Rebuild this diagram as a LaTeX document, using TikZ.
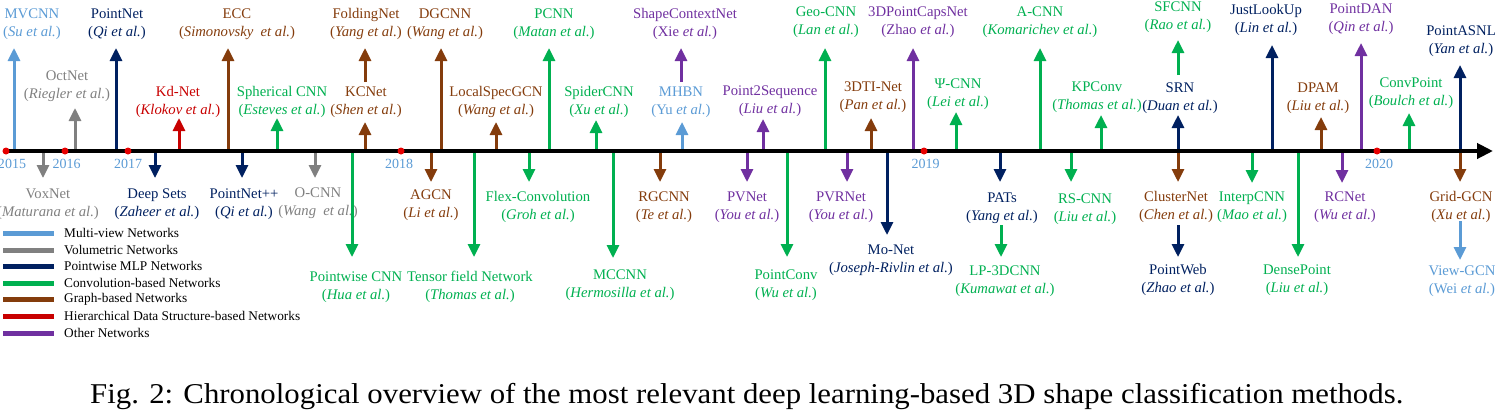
\documentclass[tikz,border=0pt]{standalone}
\usepackage{fontspec}
\setmainfont{Liberation Serif}
\usepackage{graphicx}
\usetikzlibrary{arrows.meta}
\definecolor{mvblue}{RGB}{91,155,213}
\definecolor{volgray}{RGB}{128,128,128}
\definecolor{mlpnavy}{RGB}{0,32,96}
\definecolor{convgreen}{RGB}{0,176,80}
\definecolor{graphbrown}{RGB}{132,60,12}
\definecolor{hierred}{RGB}{200,0,0}
\definecolor{othpurple}{RGB}{112,48,160}
\definecolor{dotred}{RGB}{230,0,0}
\tikzset{
  lbl/.style={inner sep=0pt, anchor=base, font=\fontsize{14.7bp}{17bp}\selectfont},
  evarrow/.style={line width=3bp, -{Triangle[width=12bp,length=13bp]}},
  axisline/.style={line width=4bp, black, -{Triangle[width=15bp,length=16bp]}},
  ydot/.style={circle, fill=dotred, inner sep=0pt, minimum size=7bp},
  yr/.style={inner sep=0pt, anchor=base, text=mvblue, font=\fontsize{14bp}{16bp}\selectfont},
  lgdline/.style={line width=5bp},
  lgdtext/.style={inner sep=0pt, anchor=west, font=\fontsize{13.3bp}{15bp}\selectfont},
  captext/.style={inner sep=0pt, anchor=base west, font=\fontsize{28.7bp}{34bp}\selectfont}
}
% id, colour, arrow x, start y, tip y, label x, name centre y, name, author
\newcommand\tlev[9]{%
  \coordinate (#1-s) at (#3,#4);
  \coordinate (#1-t) at (#3,#5);
  \draw[evarrow,#2] (#1-s) -- (#1-t);
  \node[lbl,text=#2] (#1) at ({#6},{#7+4.7}) {#8};
  \node[lbl,text=#2] (#1-a) at ({#6},{#7+22.7}) {#9};
}
\newcommand\lgd[4]{%
  \coordinate (#1-l) at (3,#3);
  \coordinate (#1-r) at (54,#3);
  \draw[lgdline,#2] (#1-l) -- (#1-r);
  \node[lgdtext] (#1) at (64,#3) {#4};
}
\begin{document}
\begin{tikzpicture}[x=1bp,y=-1bp]
\useasboundingbox (0,0) rectangle (1501,412);
% ---- events above the axis
\tlev{mvcnn}{mvblue}{14}{151}{48}{32}{14}{MVCNN}{(\textit{Su et al.})}
\tlev{octnet}{volgray}{75}{151}{108}{67}{76}{OctNet}{(\textit{Riegler et al.})}
\tlev{pointnet}{mlpnavy}{116}{151}{48}{117}{14}{PointNet}{(\textit{Qi et al.})}
\tlev{kdnet}{hierred}{179}{151}{118}{178}{92}{Kd-Net}{(\textit{Klokov et al.})}
\tlev{ecc}{graphbrown}{228}{151}{48}{237}{14}{ECC}{(\textit{Simonovsky~ et al.})}
\tlev{sphcnn}{convgreen}{277}{151}{118}{282}{92}{Spherical CNN}{(\textit{Esteves et al.})}
\tlev{kcnet}{graphbrown}{365}{151}{122}{366}{92}{KCNet}{(\textit{Shen et al.})}
\tlev{foldingnet}{graphbrown}{365}{82}{48}{366}{14}{FoldingNet}{(\textit{Yang et al.})}
\tlev{dgcnn}{graphbrown}{441}{151}{48}{445}{14}{DGCNN}{(\textit{Wang et al.})}
\tlev{localspec}{graphbrown}{496}{151}{122}{496}{92}{LocalSpecGCN}{(\textit{Wang et al.})}
\tlev{pcnn}{convgreen}{549}{151}{48}{554}{14}{PCNN}{(\textit{Matan et al.})}
\tlev{spidercnn}{convgreen}{596}{151}{120}{599}{92}{SpiderCNN}{(\textit{Xu et al.})}
\tlev{scn}{othpurple}{681}{82}{48}{685}{14}{ShapeContextNet}{(Xie \textit{et al.})}
\tlev{mhbn}{mvblue}{682}{151}{122}{681}{92}{MHBN}{(Yu \textit{et al.})}
\tlev{ptseq}{othpurple}{763}{151}{119}{770}{91}{Point2Sequence}{(\textit{Liu et al.})}
\tlev{geocnn}{convgreen}{825}{151}{48}{826}{12}{Geo-CNN}{(\textit{Lan et al.})}
\tlev{capsnet}{othpurple}{913}{151}{48}{918}{12}{3DPointCapsNet}{(Zhao \textit{et al.})}
\tlev{tinet}{graphbrown}{871}{151}{118}{873}{87}{3DTI-Net}{(\textit{Pan et al.})}
\tlev{psicnn}{convgreen}{956}{151}{112}{958}{84}{Ψ-CNN}{(\textit{Lei et al.})}
\tlev{acnn}{convgreen}{1040}{151}{48}{1040}{12}{A-CNN}{(\textit{Komarichev et al.})}
\tlev{kpconv}{convgreen}{1101}{151}{115}{1097}{87}{KPConv}{(\textit{Thomas et al.})}
\tlev{srn}{mlpnavy}{1178}{151}{115}{1180}{88}{SRN}{(\textit{Duan et al.})}
\tlev{sfcnn}{convgreen}{1178}{75}{40}{1178}{7}{SFCNN}{(\textit{Rao et al.})}
\tlev{jlu}{mlpnavy}{1272}{151}{45}{1266}{10}{JustLookUp}{(\textit{Lin et al.})}
\tlev{dpam}{graphbrown}{1321}{151}{117}{1318}{88}{DPAM}{(\textit{Liu et al.})}
\tlev{pointdan}{othpurple}{1361}{151}{43}{1361}{9}{PointDAN}{(\textit{Qin et al.})}
\tlev{convpoint}{convgreen}{1409}{151}{113}{1411}{83}{ConvPoint}{(\textit{Boulch et al.})}
\tlev{pointasnl}{mlpnavy}{1460}{151}{65}{1461}{31}{PointASNL}{(\textit{Yan et al.})}
% ---- events below the axis
\tlev{voxnet}{volgray}{43}{151}{178}{48}{194}{VoxNet}{(\textit{Maturana et al.})}
\tlev{deepsets}{mlpnavy}{155}{151}{178}{157}{194}{Deep Sets}{(\textit{Zaheer et al.})}
\tlev{pointnetpp}{mlpnavy}{242}{151}{178}{244}{194}{PointNet++}{(\textit{Qi et al.})}
\tlev{ocnn}{volgray}{315}{151}{178}{318}{193}{O-CNN}{(\textit{Wang~ et al.})}
\tlev{pwcnn}{convgreen}{352}{151}{257}{356}{277}{Pointwise CNN}{(\textit{Hua et al.})}
\tlev{agcn}{graphbrown}{431}{151}{182}{431}{195}{AGCN}{(\textit{Li et al.})}
\tlev{tfn}{convgreen}{474}{151}{257}{470}{277}{Tensor field Network}{(\textit{Thomas et al.})}
\tlev{flexconv}{convgreen}{529}{151}{182}{538}{197}{Flex-Convolution}{(\textit{Groh et al.})}
\tlev{mccnn}{convgreen}{613}{151}{258}{620}{275}{MCCNN}{(\textit{Hermosilla et al.})}
\tlev{rgcnn}{graphbrown}{660}{151}{182}{664}{197}{RGCNN}{(\textit{Te et al.})}
\tlev{pvnet}{othpurple}{747}{151}{182}{747}{197}{PVNet}{(\textit{You et al.})}
\tlev{pointconv}{convgreen}{787}{151}{257}{786}{275}{PointConv}{(\textit{Wu et al.})}
\tlev{pvrnet}{othpurple}{847}{151}{182}{841}{197}{PVRNet}{(\textit{You et al.})}
\tlev{monet}{mlpnavy}{887}{151}{235}{891}{250}{Mo-Net}{(\textit{Joseph-Rivlin et al.})}
\tlev{pats}{mlpnavy}{1000}{151}{182}{1002}{198}{PATs}{(\textit{Yang et al.})}
\tlev{lpcnn}{convgreen}{1001}{225}{257}{1005}{271}{LP-3DCNN}{(\textit{Kumawat et al.})}
\tlev{rscnn}{convgreen}{1071}{151}{182}{1085}{199}{RS-CNN}{(\textit{Liu et al.})}
\tlev{clusternet}{graphbrown}{1178}{151}{182}{1176}{197}{ClusterNet}{(\textit{Chen et al.})}
\tlev{pointweb}{mlpnavy}{1178}{225}{257}{1178}{270}{PointWeb}{(\textit{Zhao et al.})}
\tlev{interpcnn}{convgreen}{1252}{151}{183}{1252}{197}{InterpCNN}{(\textit{Mao et al.})}
\tlev{densepoint}{convgreen}{1298}{151}{257}{1297}{270}{DensePoint}{(\textit{Liu et al.})}
\tlev{rcnet}{othpurple}{1342}{151}{183}{1345}{197}{RCNet}{(\textit{Wu et al.})}
\tlev{gridgcn}{graphbrown}{1460}{151}{182}{1461}{197}{Grid-GCN}{(\textit{Xu et al.})}
\tlev{viewgcn}{mvblue}{1460}{221}{260}{1462}{271}{View-GCN}{(Wei \textit{et al.})}
% ---- axis
\coordinate (ax-s) at (5,151);
\coordinate (ax-e) at (1493,151);
\draw[axisline] (ax-s) -- (ax-e);
\node[ydot] (d15) at (6,151) {};
\node[ydot] (d16) at (65,151) {};
\node[ydot] (d17) at (128,151) {};
\node[ydot] (d18) at (401,151) {};
\node[ydot] (d19) at (924,151) {};
\node[ydot] (d20) at (1377,151) {};
\node[yr] (y15) at (12,168) {2015};
\node[yr] (y16) at (66.5,168) {2016};
\node[yr] (y17) at (128,168) {2017};
\node[yr] (y18) at (399,168) {2018};
\node[yr] (y19) at (925.5,168) {2019};
\node[yr] (y20) at (1379,168) {2020};
% ---- legend
\lgd{lg1}{mvblue}{233}{Multi-view Networks}
\lgd{lg2}{volgray}{250}{Volumetric Networks}
\lgd{lg3}{mlpnavy}{266}{Pointwise MLP Networks}
\lgd{lg4}{convgreen}{283}{Convolution-based Networks}
\lgd{lg5}{graphbrown}{299}{Graph-based Networks}
\lgd{lg6}{hierred}{316}{Hierarchical Data Structure-based Networks}
\lgd{lg7}{othpurple}{333}{Other Networks}
% ---- caption
\node[captext] (caption) at (90,403) {\resizebox{1313bp}{\height}{Fig. 2: Chronological overview of the most relevant deep learning-based 3D shape classification methods.}};
\end{tikzpicture}
\end{document}
